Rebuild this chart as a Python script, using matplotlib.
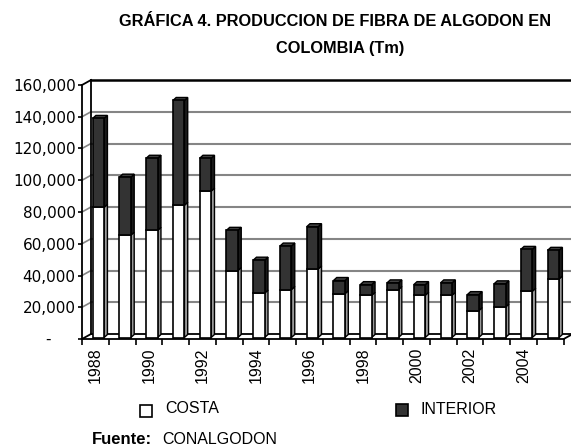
import matplotlib
matplotlib.use("Agg")
import matplotlib.pyplot as plt
from matplotlib.patches import Polygon, Rectangle
import numpy as np

# data (toneladas de fibra)
years = list(range(1988, 2006))
costa = [82000, 64500, 67500, 83300, 92200, 42200, 28000, 30200, 43200,
         27600, 26600, 30200, 26600, 26600, 16900, 19200, 29100, 36900]
interior = [56000, 36500, 45400, 66000, 20700, 25300, 20700, 27400, 26600,
            8300, 6700, 4200, 6700, 7800, 10100, 14600, 26400, 18000]
yticks = [0, 20000, 40000, 60000, 80000, 100000, 120000, 140000, 160000]

SANS = ['Liberation Sans', 'DejaVu Sans']

W, H = 571, 446
fig = plt.figure(figsize=(W / 100, H / 100), dpi=100)

# front plane of the pseudo-3D chart
left, right, top, bottom = 82, 563.7, 85, 339
ax = fig.add_axes([left / W, 1 - bottom / H, (right - left) / W, (bottom - top) / H])
ax.set_xlim(-0.5, 17.5)
ax.set_ylim(0, 160000)

# pixel -> data unit conversion for the 3D offsets
ux = 18 / (right - left)
uy = 160000 / (bottom - top)
wx, wy = 9 * ux, 5 * uy       # back wall depth
bx, by = 3 * ux, 1.5 * uy     # bar front offset
dx, dy = 3.3 * ux, 3 * uy     # bar depth

x = np.arange(len(years))
grid_c = '#858585'

# back wall gridlines + left wall diagonals
for v in yticks[1:-1]:
    ax.plot([-0.5 + wx, 17.5 + wx + 1], [v + wy, v + wy], color=grid_c, lw=1.5,
            clip_on=False, zorder=1)
    ax.plot([-0.5, -0.5 + wx], [v, v + wy], color=grid_c, lw=1.2, clip_on=False, zorder=1)

# wall / floor outlines
k = dict(color='black', lw=1.3, clip_on=False, zorder=1.5)
ax.plot([-0.5 + wx, 17.5 + wx + 1], [160000 + wy] * 2, color='black', lw=1.8,
        clip_on=False, zorder=1.5)
ax.plot([-0.5 + wx] * 2, [wy, 160000 + wy], **k)
ax.plot([-0.5, -0.5 + wx], [160000, 160000 + wy], **k)
ax.plot([-0.5 + wx, 17.5 + wx], [wy, wy], **k)
ax.plot([-0.5, -0.5 + wx], [0, wy], **k)
ax.plot([17.5, 17.5 + wx], [0, wy], **k)

# bars
w = 0.43
total = np.array(costa) + np.array(interior)
ax.bar(x + bx, costa, w, bottom=by, color='white', edgecolor='black', lw=1.2,
       zorder=3, clip_on=False)
ax.bar(x + bx, interior, w, bottom=np.array(costa) + by, color='#333333',
       edgecolor='black', lw=1.2, zorder=3, clip_on=False)

for i in range(len(years)):
    x1 = x[i] + bx + w / 2
    x0 = x1 - w
    c_top = costa[i] + by
    t_top = total[i] + by
    # side faces
    ax.add_patch(Polygon([(x1, by), (x1 + dx, by + dy), (x1 + dx, c_top + dy), (x1, c_top)],
                         closed=True, fc='#9a9a9a', ec='black', lw=1.0, zorder=2.9,
                         clip_on=False))
    ax.add_patch(Polygon([(x1, c_top), (x1 + dx, c_top + dy), (x1 + dx, t_top + dy), (x1, t_top)],
                         closed=True, fc='#1a1a1a', ec='black', lw=1.0, zorder=2.9,
                         clip_on=False))
    # top face
    ax.add_patch(Polygon([(x0, t_top), (x0 + dx, t_top + dy), (x1 + dx, t_top + dy), (x1, t_top)],
                         closed=True, fc='#404040', ec='black', lw=1.0, zorder=2.9,
                         clip_on=False))

# axes styling
for s in ['top', 'right']:
    ax.spines[s].set_visible(False)
for s in ['left', 'bottom']:
    ax.spines[s].set_linewidth(1.3)
    ax.spines[s].set_zorder(4)

ax.set_yticks(yticks)
ax.set_yticklabels([''] + [f'{v:,}' for v in yticks[1:]])
ax.tick_params(axis='y', length=3, width=1.2, pad=1.5, labelsize=11)
# Excel-style dash for zero
ax.text(-0.5 - 34 * ux, 0, '-', ha='center', va='center', fontsize=11, clip_on=False)

ax.set_xticks(x[::2])
ax.set_xticklabels([str(y) for y in years[::2]], rotation=90, fontsize=11.5,
                   family=SANS)
ax.set_xticks(np.arange(-0.5, 18, 1), minor=True)
ax.tick_params(axis='x', which='major', length=0, pad=6)
ax.tick_params(axis='x', which='minor', length=4, width=1.2)

# title
fig.text(335 / W, 1 - 22 / H, 'GRÁFICA 4. PRODUCCION DE FIBRA DE ALGODON EN',
         ha='center', va='center', fontsize=11.8, fontweight='bold', family=SANS)
fig.text(340 / W, 1 - 48 / H, 'COLOMBIA (Tm)', ha='center', va='center',
         fontsize=11.8, fontweight='bold', family=SANS)

# legend
fig.patches.append(Rectangle((140 / W, 1 - 416.5 / H), 11.5 / W, 11.5 / H, fc='white',
                             ec='black', lw=1.2, transform=fig.transFigure))
fig.text(165 / W, 1 - 408.5 / H, 'COSTA', ha='left', va='center', fontsize=11.5, family=SANS)
fig.patches.append(Rectangle((396 / W, 1 - 415.5 / H), 12 / W, 11.5 / H, fc='#333333',
                             ec='black', lw=1.2, transform=fig.transFigure))
fig.text(421 / W, 1 - 409 / H, 'INTERIOR', ha='left', va='center', fontsize=11.5, family=SANS)

# source
fig.text(92 / W, 1 - 440 / H, 'Fuente:', ha='left', va='center', fontsize=12,
         fontweight='bold', family=SANS)
fig.text(162 / W, 1 - 440 / H, 'CONALGODON', ha='left', va='center', fontsize=11.5,
         family=SANS)

fig.savefig('out.png', dpi=100)
